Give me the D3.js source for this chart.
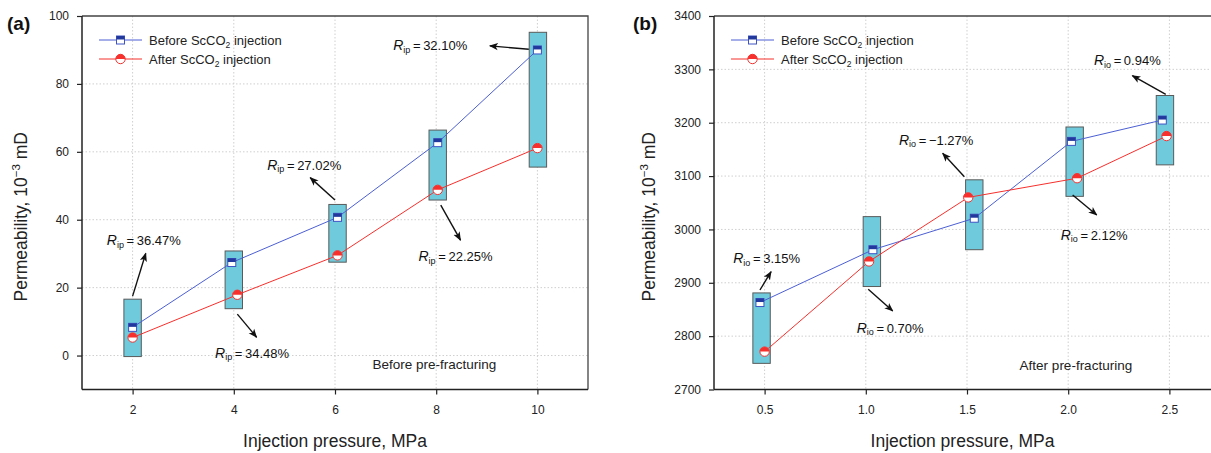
<!DOCTYPE html>
<html>
<head>
<meta charset="utf-8">
<script src="https://cdn.jsdelivr.net/npm/d3@7"></script>
<style>
  html, body { margin: 0; padding: 0; background: #fff; }
  svg { display: block; font-family: "Liberation Sans", Arial, sans-serif; }
</style>
</head>
<body>
<svg id="chart" width="1211" height="453"></svg>
<script>
// ---------------- DATA ----------------
// Panel (a): before pre-fracturing
const pressureA = [2, 4, 6, 8, 10];
const xTicksA = [2, 4, 6, 8, 10];
const yTicksA = [0, 20, 40, 60, 80, 100];
const beforeA = [8.3, 27.4, 40.7, 62.7, 90.0];
const afterA  = [5.3, 17.9, 29.5, 48.8, 61.1];
const beforeXA = [2, 3.96, 6.05, 8.03, 10];
const afterXA  = [2, 4.07, 6.05, 8.03, 10];
const boxXA   = [2, 4, 6.05, 8.03, 10.01];
const boxLowA  = [-0.3, 13.8, 27.5, 45.8, 55.5];
const boxHighA = [16.6, 30.8, 44.5, 66.4, 95.2];
const ratioLabelsA = ["36.47%", "34.48%", "27.02%", "22.25%", "32.10%"];
// annotation anchors in data units: label (x,y), arrow start, arrow end
const labelXA = [1.49, 3.63, 4.66, 7.65, 7.15];
const labelYA = [33.8, 0.7, 56.1, 29.1, 91.3];
const arrowFromXA = [2.0, 4.07, 6.0, 8.09, 9.83];
const arrowFromYA = [17.5, 12.2, 45.8, 44.3, 90.2];
const arrowToXA = [2.26, 4.45, 5.51, 8.48, 9.06];
const arrowToYA = [30.1, 5.4, 52.4, 34.0, 91.2];

// Panel (b): after pre-fracturing
const pressureB = [0.5, 1.0, 1.5, 2.0, 2.5];
const xTicksB = [0.5, 1.0, 1.5, 2.0, 2.5];
const yTicksB = [2700, 2800, 2900, 3000, 3100, 3200, 3300, 3400];
const beforeB = [2863, 2962, 3021, 3165, 3205];
const afterB  = [2771, 2940, 3060, 3096, 3175];
const beforeXB = [0.477, 1.035, 1.536, 2.016, 2.465];
const afterXB  = [0.5, 1.016, 1.506, 2.044, 2.486];
const boxXB   = [0.485, 1.03, 1.536, 2.032, 2.478];
const boxLowB  = [2749, 2893, 2962, 3062, 3121];
const boxHighB = [2881, 3024, 3093, 3192, 3251];
const ratioLabelsB = ["3.15%", "0.70%", "\u22121.27%", "2.12%", "0.94%"];
const labelXB = [0.345, 0.955, 1.164, 1.963, 2.127];
const labelYB = [2944.6, 2814.7, 3167.6, 2989.5, 3316.2];
const arrowFromXB = [0.477, 1.012, 1.487, 2.022, 2.482];
const arrowFromYB = [2886.5, 2887.8, 3098.8, 3064.5, 3253.2];
const arrowToXB = [0.532, 1.133, 1.38, 2.141, 2.317];
const arrowToYB = [2920.8, 2847.1, 3142.6, 3027, 3288.1];

const seriesNames = ["Before ScCO", "After ScCO"];
const xTitle = "Injection pressure, MPa";
const yTitle = "Permeability, 10";

// ---------------- DRAW ----------------
const svg = d3.select("#chart");
const defs = svg.append("defs");
defs.append("marker")
  .attr("id", "arrowhead").attr("viewBox", "0 0 10 10")
  .attr("refX", 9).attr("refY", 5)
  .attr("markerWidth", 9).attr("markerHeight", 9)
  .attr("markerUnits", "userSpaceOnUse")
  .attr("orient", "auto")
  .append("path").attr("d", "M0,1 L10,5 L0,9 L2.5,5 Z").attr("fill", "#111");

const BLUE_LINE = "#4c5fd3", NAVY = "#23389c", RED = "#f5302d", BOX = "#6fcbdc";

function drawPanel(p) {
  const g = svg.append("g");
  const x = d3.scaleLinear().domain(p.xDomain).range([p.left, p.right]);
  const y = d3.scaleLinear().domain(p.yDomain).range([p.bottom, p.top]);

  // grid
  g.append("g").selectAll("line").data(p.xTicks).join("line")
    .attr("x1", d => x(d)).attr("x2", d => x(d))
    .attr("y1", p.top).attr("y2", p.bottom)
    .attr("stroke", "#cfcfcf").attr("stroke-width", 1).attr("stroke-dasharray", "1.5,2");
  g.append("g").selectAll("line").data(p.yTicks.filter(t => y(t) > p.top + 1 && y(t) < p.bottom - 1)).join("line")
    .attr("x1", p.left).attr("x2", p.right)
    .attr("y1", d => y(d)).attr("y2", d => y(d))
    .attr("stroke", "#cfcfcf").attr("stroke-width", 1).attr("stroke-dasharray", "1.5,2");

  // frame (top & right)
  g.append("path")
    .attr("d", `M${p.left},${p.top}H${p.right}V${p.bottom}`)
    .attr("fill", "none").attr("stroke", "#444").attr("stroke-width", 1.3);

  // boxes
  const bw = 17.4;
  g.append("g").selectAll("rect").data(p.boxX).join("rect")
    .attr("x", (d) => x(d) - bw / 2)
    .attr("y", (d, i) => y(p.boxHigh[i]))
    .attr("width", bw)
    .attr("height", (d, i) => y(p.boxLow[i]) - y(p.boxHigh[i]))
    .attr("fill", BOX).attr("stroke", "#5a5a5a").attr("stroke-width", 1);

  // lines
  const lineGen = d3.line().x(d => x(d[0])).y(d => y(d[1]));
  const bPts = p.before.map((v, i) => [p.beforeX[i], v]);
  const aPts = p.after.map((v, i) => [p.afterX[i], v]);
  g.append("path").datum(bPts).attr("d", lineGen)
    .attr("fill", "none").attr("stroke", BLUE_LINE).attr("stroke-width", 1);
  g.append("path").datum(aPts).attr("d", lineGen)
    .attr("fill", "none").attr("stroke", RED).attr("stroke-width", 1);

  // markers
  function squareMarker(sel, cx, cy) {
    const s = 8;
    sel.append("rect").attr("x", cx - s / 2).attr("y", cy - s / 2).attr("width", s).attr("height", s)
      .attr("fill", "#fff").attr("stroke", "#3e52c4").attr("stroke-width", 1);
    sel.append("rect").attr("x", cx - s / 2).attr("y", cy - s / 2).attr("width", s).attr("height", s / 2 - 0.5)
      .attr("fill", NAVY);
  }
  function circleMarker(sel, cx, cy) {
    const r = 4.7;
    sel.append("circle").attr("cx", cx).attr("cy", cy).attr("r", r)
      .attr("fill", "#fff").attr("stroke", RED).attr("stroke-width", 1);
    sel.append("path")
      .attr("d", `M${cx - r},${cy} A${r},${r} 0 0 1 ${cx + r},${cy} Z`)
      .attr("fill", RED);
  }
  const mg = g.append("g");
  aPts.forEach(d => circleMarker(mg, x(d[0]), y(d[1])));
  bPts.forEach(d => squareMarker(mg, x(d[0]), y(d[1])));

  // axes
  const xAxis = d3.axisBottom(x).tickValues(p.xTicks).tickSize(5).tickPadding(8)
    .tickFormat(p.xFmt);
  const yAxis = d3.axisLeft(y).tickValues(p.yTicks).tickSize(5).tickPadding(8)
    .tickFormat(d3.format("d"));
  const gx = g.append("g").attr("transform", `translate(0,${p.bottom})`).call(xAxis);
  const gy = g.append("g").attr("transform", `translate(${p.left},0)`).call(yAxis);
  [gx, gy].forEach(a => {
    a.select(".domain").attr("stroke", "#222").attr("stroke-width", 1.5);
    a.selectAll(".tick line").attr("stroke", "#222").attr("stroke-width", 1.2);
    a.selectAll(".tick text").attr("fill", "#222").style("font-size", "12px")
      .style("font-family", "'Liberation Sans', Arial, sans-serif");
  });
  gx.select(".domain").attr("d", `M${p.left},0H${p.right}`);
  gy.select(".domain").attr("d", `M0,${p.bottom}V${p.top}`);
  gx.selectAll(".tick text").attr("dy", "0.95em");

  // axis titles
  g.append("text").attr("x", (p.left + Math.min(p.right, 1211)) / 2).attr("y", 447)
    .attr("text-anchor", "middle").attr("fill", "#222").style("font-size", "17.5px")
    .text(xTitle);
  const yt = g.append("text")
    .attr("transform", `translate(${p.yTitleX},${(p.top + p.bottom) / 2 + 14}) rotate(-90)`)
    .attr("text-anchor", "middle").attr("fill", "#222").style("font-size", "17.5px");
  yt.append("tspan").text(yTitle);
  yt.append("tspan").attr("dy", -7).style("font-size", "11.5px").text("\u22123");
  yt.append("tspan").attr("dy", 7).text(" mD");

  // panel label
  g.append("text").attr("x", p.panelX).attr("y", 30).attr("fill", "#111")
    .style("font-size", "19px").style("font-weight", "bold").text(p.panelLabel);

  // legend
  const lg = g.append("g");
  const lx0 = p.left + 17, lx1 = p.left + 60, ly = [40, 59];
  [0, 1].forEach(i => {
    lg.append("line").attr("x1", lx0).attr("x2", lx1).attr("y1", ly[i]).attr("y2", ly[i])
      .attr("stroke", i === 0 ? BLUE_LINE : RED).attr("stroke-width", 1);
    if (i === 0) squareMarker(lg, (lx0 + lx1) / 2, ly[i]);
    else circleMarker(lg, (lx0 + lx1) / 2, ly[i]);
    const t = lg.append("text").attr("x", p.left + 67).attr("y", ly[i] + 4.5)
      .attr("fill", "#222").style("font-size", "13px");
    t.append("tspan").text(seriesNames[i]);
    t.append("tspan").attr("dy", 3).style("font-size", "8.5px").text("2");
    t.append("tspan").attr("dy", -3).text(" injection");
  });

  // note text
  g.append("text").attr("x", x(p.noteX)).attr("y", y(p.noteY) + 4.5)
    .attr("fill", "#222").style("font-size", "13.5px").text(p.note);

  // annotations
  const ag = g.append("g");
  p.ratios.forEach((r, i) => {
    ag.append("line")
      .attr("x1", x(p.arrowFromX[i])).attr("y1", y(p.arrowFromY[i]))
      .attr("x2", x(p.arrowToX[i])).attr("y2", y(p.arrowToY[i]))
      .attr("stroke", "#111").attr("stroke-width", 1.4)
      .attr("marker-end", "url(#arrowhead)");
    const t = ag.append("text").attr("x", x(p.labelX[i])).attr("y", y(p.labelY[i]) + 4.5)
      .attr("fill", "#111").style("font-size", "13px");
    t.append("tspan").style("font-style", "italic").style("font-size", "14px").text("R");
    t.append("tspan").attr("dy", 2.5).style("font-size", "9px").text(p.sub);
    t.append("tspan").attr("dy", -2.5).text("\u2009=\u2009" + r);
  });
}

drawPanel({
  id: "a", left: 82, right: 588, top: 16, bottom: 389.5,
  xDomain: [1, 11], yDomain: [-10, 100],
  xTicks: xTicksA, yTicks: yTicksA, xFmt: d3.format("d"),
  before: beforeA, after: afterA, beforeX: beforeXA, afterX: afterXA,
  boxX: boxXA, boxLow: boxLowA, boxHigh: boxHighA,
  ratios: ratioLabelsA, sub: "ip",
  labelX: labelXA, labelY: labelYA,
  arrowFromX: arrowFromXA, arrowFromY: arrowFromYA, arrowToX: arrowToXA, arrowToY: arrowToYA,
  note: "Before pre-fracturing", noteX: 6.74, noteY: -2.6,
  panelLabel: "(a)", panelX: 7, yTitleX: 27
});
drawPanel({
  id: "b", left: 714, right: 1220, top: 16, bottom: 389.5,
  xDomain: [0.25, 2.75], yDomain: [2700, 3400],
  xTicks: xTicksB, yTicks: yTicksB, xFmt: d3.format(".1f"),
  before: beforeB, after: afterB, beforeX: beforeXB, afterX: afterXB,
  boxX: boxXB, boxLow: boxLowB, boxHigh: boxHighB,
  ratios: ratioLabelsB, sub: "io",
  labelX: labelXB, labelY: labelYB,
  arrowFromX: arrowFromXB, arrowFromY: arrowFromYB, arrowToX: arrowToXB, arrowToY: arrowToYB,
  note: "After pre-fracturing", noteX: 1.76, noteY: 2745,
  panelLabel: "(b)", panelX: 633, yTitleX: 655
});
</script>
</body>
</html>
